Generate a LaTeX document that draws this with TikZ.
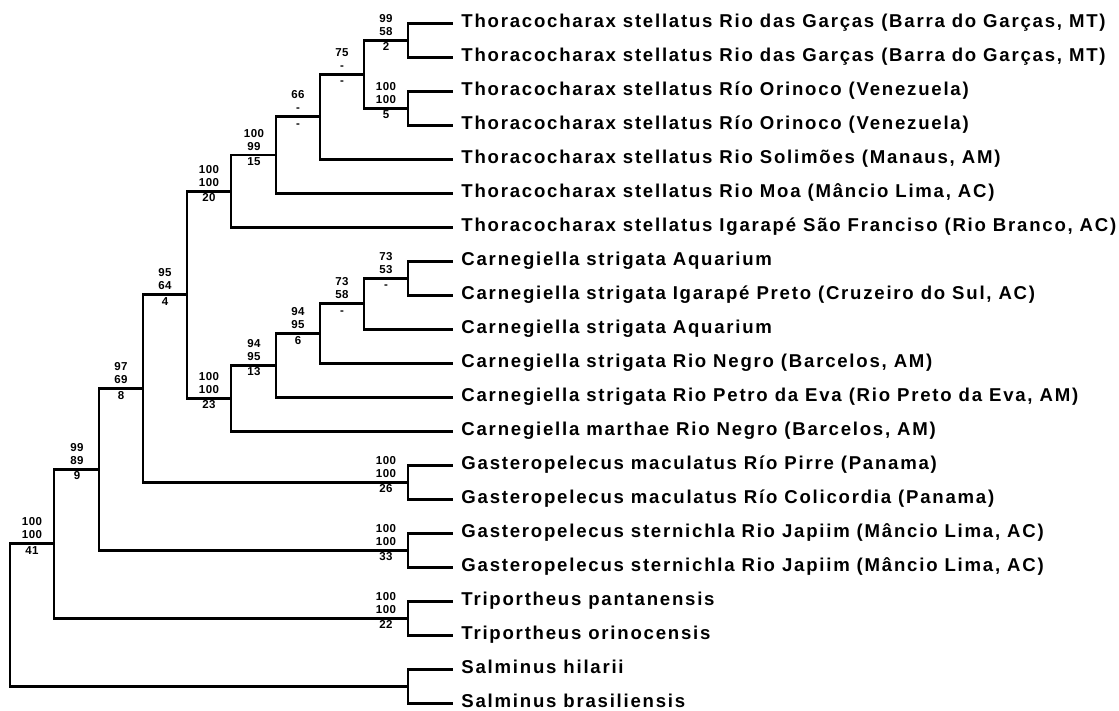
\documentclass[tikz,border=0pt]{standalone}
\usepackage{fontspec}
\setmainfont{Liberation Sans}[LetterSpace=9.5]
\newfontfamily\numfont{Liberation Sans}[LetterSpace=4]

\tikzset{
  taxon/.style={anchor=base west, inner sep=0pt, font=\bfseries\fontsize{18.6}{20}\selectfont},
  supp/.style={anchor=base, inner sep=0pt, font=\numfont\bfseries\fontsize{11.5}{12}\selectfont},
}

% three support values on the branch into a clade
\newcommand{\bsval}[4]{%
  \node[supp] (#1a) at ([shift={(-22,-18)}]#1) {#2};
  \node[supp] (#1b) at ([shift={(-22,-5)}]#1) {#3};
  \node[supp] (#1c) at ([shift={(-22,10.5)}]#1) {#4};
}

\begin{document}
\begin{tikzpicture}[x=1pt,y=-1pt,line width=2.9pt]
        \useasboundingbox (0,0) rectangle (1119,711);

        % clades
        \coordinate (root) at (10,615.1);
        \coordinate (A) at (54,543.85);
        \coordinate (B) at (99,469.4);
        \coordinate (C) at (143,388.55);
        \coordinate (D) at (187,294.8);
        \coordinate (E) at (231,191.2);
        \coordinate (F) at (276,155.05);
        \coordinate (G) at (320,116.8);
        \coordinate (H) at (364,74.3);
        \coordinate (I) at (408,40.3);
        \coordinate (J) at (408,108.3);
        \coordinate (K) at (231,398.35);
        \coordinate (L) at (276,365.4);
        \coordinate (M) at (320,333.55);
        \coordinate (N) at (364,303.8);
        \coordinate (O) at (408,278.3);
        \coordinate (P) at (408,482.3);
        \coordinate (Q) at (408,550.3);
        \coordinate (R) at (408,618.3);
        \coordinate (S) at (408,686.3);

        % tips
        \coordinate (l1) at (453,23.3);
        \coordinate (l2) at (453,57.3);
        \coordinate (l3) at (453,91.3);
        \coordinate (l4) at (453,125.3);
        \coordinate (l5) at (453,159.3);
        \coordinate (l6) at (453,193.3);
        \coordinate (l7) at (453,227.3);
        \coordinate (l8) at (453,261.3);
        \coordinate (l9) at (453,295.3);
        \coordinate (l10) at (453,329.3);
        \coordinate (l11) at (453,363.3);
        \coordinate (l12) at (453,397.3);
        \coordinate (l13) at (453,431.3);
        \coordinate (l14) at (453,465.3);
        \coordinate (l15) at (453,499.3);
        \coordinate (l16) at (453,533.3);
        \coordinate (l17) at (453,567.3);
        \coordinate (l18) at (453,601.3);
        \coordinate (l19) at (453,635.3);
        \coordinate (l20) at (453,669.3);
        \coordinate (l21) at (453,703.3);

        \draw (root) |- (A);
        \draw (root) |- (S);
        \draw (A) |- (B);
        \draw (A) |- (R);
        \draw (B) |- (C);
        \draw (B) |- (Q);
        \draw (C) |- (D);
        \draw (C) |- (P);
        \draw (D) |- (E);
        \draw (D) |- (K);
        \draw (E) |- (F);
        \draw (E) |- (l7);
        \draw (F) |- (G);
        \draw (F) |- (l6);
        \draw (G) |- (H);
        \draw (G) |- (l5);
        \draw (H) |- (I);
        \draw (H) |- (J);
        \draw (I) |- (l1);
        \draw (I) |- (l2);
        \draw (J) |- (l3);
        \draw (J) |- (l4);
        \draw (K) |- (L);
        \draw (K) |- (l13);
        \draw (L) |- (M);
        \draw (L) |- (l12);
        \draw (M) |- (N);
        \draw (M) |- (l11);
        \draw (N) |- (O);
        \draw (N) |- (l10);
        \draw (O) |- (l8);
        \draw (O) |- (l9);
        \draw (P) |- (l14);
        \draw (P) |- (l15);
        \draw (Q) |- (l16);
        \draw (Q) |- (l17);
        \draw (R) |- (l18);
        \draw (R) |- (l19);
        \draw (S) |- (l20);
        \draw (S) |- (l21);

        \bsval{I}{99}{58}{2}
        \bsval{J}{100}{100}{5}
        \bsval{H}{75}{-}{-}
        \bsval{G}{66}{-}{-}
        \bsval{F}{100}{99}{15}
        \bsval{E}{100}{100}{20}
        \bsval{D}{95}{64}{4}
        \bsval{O}{73}{53}{-}
        \bsval{N}{73}{58}{-}
        \bsval{M}{94}{95}{6}
        \bsval{L}{94}{95}{13}
        \bsval{K}{100}{100}{23}
        \bsval{C}{97}{69}{8}
        \bsval{P}{100}{100}{26}
        \bsval{B}{99}{89}{9}
        \bsval{Q}{100}{100}{33}
        \bsval{A}{100}{100}{41}
        \bsval{R}{100}{100}{22}

        \node[taxon] (t1) at (460,27.6) {Thoracocharax stellatus Rio das Garças (Barra do Garças, MT)};
        \node[taxon] (t2) at (460,61.6) {Thoracocharax stellatus Rio das Garças (Barra do Garças, MT)};
        \node[taxon] (t3) at (460,95.6) {Thoracocharax stellatus Río Orinoco (Venezuela)};
        \node[taxon] (t4) at (460,129.6) {Thoracocharax stellatus Río Orinoco (Venezuela)};
        \node[taxon] (t5) at (460,163.6) {Thoracocharax stellatus Rio Solimões (Manaus, AM)};
        \node[taxon] (t6) at (460,197.6) {Thoracocharax stellatus Rio Moa (Mâncio Lima, AC)};
        \node[taxon] (t7) at (460,231.6) {Thoracocharax stellatus Igarapé São Franciso (Rio Branco, AC)};
        \node[taxon] (t8) at (460,265.6) {Carnegiella strigata Aquarium};
        \node[taxon] (t9) at (460,299.6) {Carnegiella strigata Igarapé Preto (Cruzeiro do Sul, AC)};
        \node[taxon] (t10) at (460,333.6) {Carnegiella strigata Aquarium};
        \node[taxon] (t11) at (460,367.6) {Carnegiella strigata Rio Negro (Barcelos, AM)};
        \node[taxon] (t12) at (460,401.6) {Carnegiella strigata Rio Petro da Eva (Rio Preto da Eva, AM)};
        \node[taxon] (t13) at (460,435.6) {Carnegiella marthae Rio Negro (Barcelos, AM)};
        \node[taxon] (t14) at (460,469.6) {Gasteropelecus maculatus Río Pirre (Panama)};
        \node[taxon] (t15) at (460,503.6) {Gasteropelecus maculatus Río Colicordia (Panama)};
        \node[taxon] (t16) at (460,537.6) {Gasteropelecus sternichla Rio Japiim (Mâncio Lima, AC)};
        \node[taxon] (t17) at (460,571.6) {Gasteropelecus sternichla Rio Japiim (Mâncio Lima, AC)};
        \node[taxon] (t18) at (460,605.6) {Triportheus pantanensis};
        \node[taxon] (t19) at (460,639.6) {Triportheus orinocensis};
        \node[taxon] (t20) at (460,673.6) {Salminus hilarii};
        \node[taxon] (t21) at (460,707.6) {Salminus brasiliensis};
      \end{tikzpicture}
\end{document}
